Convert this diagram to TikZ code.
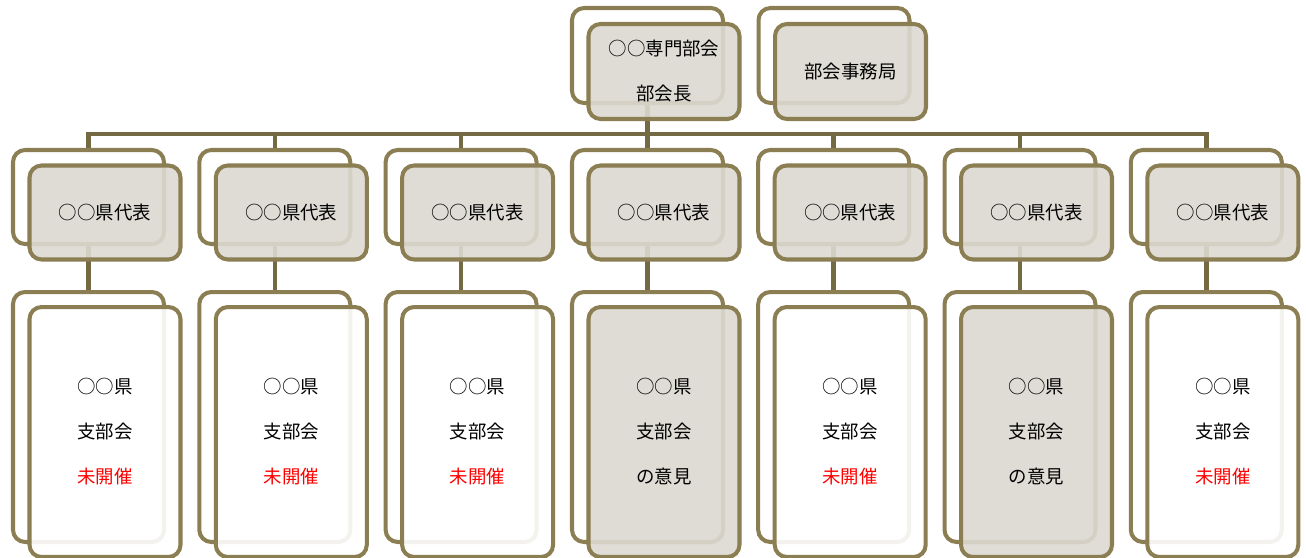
\documentclass[tikz,border=0pt]{standalone}
\usepackage{fontspec}
\newfontfamily\jpfont{Noto Sans CJK JP}
\usepackage{tikz}
\usetikzlibrary{positioning}
\pgfdeclarelayer{bg}
\pgfsetlayers{bg,main}
\definecolor{boxline}{RGB}{139,126,82}
\definecolor{linkline}{RGB}{115,105,66}
\definecolor{boxfill}{RGB}{220,217,209}
\tikzstyle{backbox}=[rectangle,rounded corners=2.4mm,draw=boxline,line width=2.3pt,fill=white,minimum width=3.02cm]
\tikzstyle{frontbox}=[backbox,fill=boxfill,fill opacity=0.9,text opacity=1,font=\jpfont\fontsize{10.5}{25.6}\selectfont,align=center]
\tikzstyle{memo}=[frontbox,fill=white]
\tikzstyle{link}=[draw=linkline,line width=2.6pt]
% one prefecture column: name, x, style of lower box, last line
\newcommand{\kenpair}[4]{%
    \node[backbox,minimum height=1.88cm] (r#1) at (#2,197) {};
    \node[frontbox,minimum height=1.88cm] (f#1) at (#2+16.5,212.5) {○○県代表};
    \node[backbox,minimum height=5cm] (s#1) at (#2,417) {};
    \node[#3,minimum height=5cm] (t#1) at (#2+16.5,432) {○○県\\支部会\\#4};
}

\begin{document}
\begin{tikzpicture}[x=0.02cm,y=-0.02cm]
    \useasboundingbox (0,0) rectangle (1306,558);
    \node[backbox,minimum height=1.9cm] (lead) at (647.5,55.5) {};
    \node[frontbox,minimum height=1.9cm] (leadf) at (664,71.5) {○○専門部会\\部会長};
    \node[backbox,minimum height=1.9cm] (office) at (834,55.5) {};
    \node[frontbox,minimum height=1.9cm] (officef) at (850.5,71.5) {部会事務局};
    \kenpair{1}{88.5}{memo}{{\color{red}未開催}}
    \kenpair{2}{274.8}{memo}{{\color{red}未開催}}
    \kenpair{3}{461.1}{memo}{{\color{red}未開催}}
    \kenpair{4}{647.5}{frontbox}{の意見}
    \kenpair{5}{833.7}{memo}{{\color{red}未開催}}
    \kenpair{6}{1020}{frontbox}{の意見}
    \kenpair{7}{1206.3}{memo}{{\color{red}未開催}}
    \coordinate (bus) at (0,134);
    \begin{pgfonlayer}{bg}
	\draw[link] (lead.south) -- (lead.south |- bus);
	\draw[link] (r1.north) -- (r1.north |- bus) -- (r7.north |- bus) -- (r7.north);
	\foreach \k in {2,...,6}
	    \draw[link] (r\k.north) -- (r\k.north |- bus);
	\foreach \k in {1,...,7}
	    \draw[link] (r\k.south) -- (s\k.north);
    \end{pgfonlayer}
\end{tikzpicture}
\end{document}
